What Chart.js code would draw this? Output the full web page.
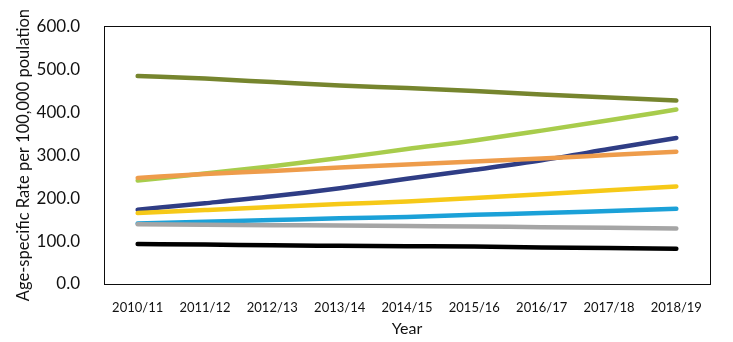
<!DOCTYPE html>
<html lang="en">
<head>
    <meta charset="UTF-8">
    <title>Age-specific Rate per 100,000 population</title>
    <script src="https://cdn.jsdelivr.net/npm/chart.js@4.4.1/dist/chart.umd.min.js"></script>
    <style>
        body {
            margin: 0;
            background-color: white;
        }
        .chart-box {
            width: 733px;
            height: 342px;
        }
    </style>
</head>
<body>
    <div class="chart-box">
        <canvas id="rateChart" width="733" height="342"></canvas>
    </div>

    <script>
        const years = ['2010/11', '2011/12', '2012/13', '2013/14', '2014/15', '2015/16', '2016/17', '2017/18', '2018/19'];

        const olive = [484, 478, 470, 462, 456, 449, 441, 434, 427];
        const lime = [241, 257, 274, 293, 314, 334, 357, 381, 406];
        const orange = [247, 256, 263, 271, 278, 285, 292, 300, 308];
        const navy = [173, 188, 204, 223, 245, 266, 288, 314, 340];
        const yellow = [165, 172, 179, 186, 192, 200, 209, 218, 227];
        const blue = [141, 145, 149, 153, 156, 161, 165, 170, 175];
        const grey = [139, 138, 137, 136, 135, 134, 132, 131, 129];
        const black = [93, 92, 90, 89, 88, 87, 85, 84, 82];

        const yTicks = [0, 100, 200, 300, 400, 500, 600];

        function line(data, color) {
            return {
                data: data,
                borderColor: color,
                backgroundColor: color,
                borderWidth: 4.5,
                borderCapStyle: 'round',
                pointRadius: 0,
                pointHoverRadius: 0,
                cubicInterpolationMode: 'monotone',
                fill: false
            };
        }

        // thin black frame round the plot area, filled as four strips
        const plotFrame = {
            id: 'plotFrame',
            afterDraw(chart) {
                const a = chart.chartArea;
                const c = chart.ctx;
                const l = Math.round(a.left), t = Math.round(a.top);
                const r = Math.round(a.right), b = Math.round(a.bottom);
                c.save();
                c.fillStyle = '#0d0d0d';
                c.fillRect(l, t, r - l + 1, 1);
                c.fillRect(l, b, r - l + 1, 1);
                c.fillRect(l, t, 1, b - t + 1);
                c.fillRect(r, t, 1, b - t + 1);
                c.restore();
            }
        };

        const ctx = document.getElementById('rateChart').getContext('2d');
        new Chart(ctx, {
            type: 'line',
            data: {
                labels: years,
                datasets: [
                    line(black, '#000000'),
                    line(grey, '#a5a5a5'),
                    line(blue, '#1ba1d8'),
                    line(yellow, '#f6c918'),
                    line(orange, '#ee9c4b'),
                    line(navy, '#2f3d85'),
                    line(lime, '#a8cc4c'),
                    line(olive, '#76852e')
                ]
            },
            options: {
                responsive: false,
                animation: false,
                layout: {
                    padding: { left: 10, top: 12, right: 23, bottom: 0 }
                },
                plugins: {
                    legend: { display: false },
                    tooltip: { enabled: false }
                },
                scales: {
                    x: {
                        offset: true,
                        grid: { display: false },
                        border: { display: false },
                        ticks: {
                            color: '#111',
                            font: { family: 'Lato', size: 13 },
                            maxRotation: 0,
                            padding: 8
                        },
                        title: {
                            display: true,
                            text: 'Year',
                            color: '#111',
                            font: { family: 'Lato', size: 16 },
                            padding: { top: 10 }
                        },
                        afterFit(scale) { scale.height = 58; }
                    },
                    y: {
                        min: 0,
                        max: 600,
                        grid: { display: false },
                        border: { display: false },
                        afterBuildTicks(scale) {
                            scale.ticks = yTicks.map(v => ({ value: v }));
                        },
                        ticks: {
                            color: '#111',
                            font: { family: 'Lato', size: 17 },
                            padding: 16,
                            callback: v => v.toFixed(1)
                        },
                        title: {
                            display: true,
                            text: 'Age-specific Rate per 100,000 poulation',
                            color: '#111',
                            font: { family: 'Lato', size: 16.5 },
                            padding: { bottom: 4 }
                        },
                        afterFit(scale) { scale.width = 94; }
                    }
                }
            },
            plugins: [plotFrame]
        });
    </script>
</body>
</html>
